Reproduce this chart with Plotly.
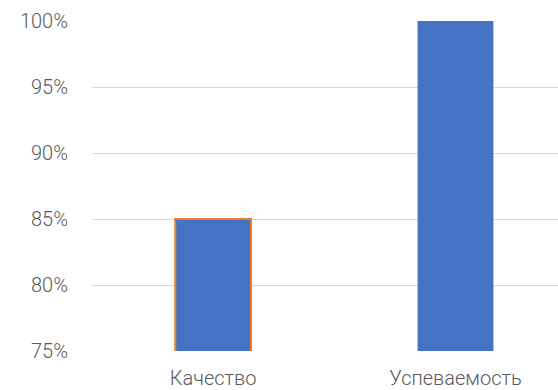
import plotly.graph_objects as go

# Share of students: quality of knowledge vs. academic progress
categories = ["Качество", "Успеваемость"]
values = [0.85, 1.00]
y_ticks = [0.75, 0.80, 0.85, 0.90, 0.95, 1.00]
y_tick_labels = ["75%", "80%", "85%", "90%", "95%", "100%"]

bar_fill = "#4472C4"
outline_colors = ["#ED7D31", "rgba(0,0,0,0)"]
outline_widths = [2, 0]

fig = go.Figure(
    go.Bar(
        x=categories,
        y=values,
        width=0.313,
        marker=dict(
            color=bar_fill,
            line=dict(color=outline_colors, width=outline_widths),
        ),
        hoverinfo="skip",
    )
)

label_font = dict(family="Roboto", size=20, color="#595959", weight=300)

fig.update_layout(
    width=558,
    height=390,
    margin=dict(l=92, r=0, t=21, b=39),
    paper_bgcolor="white",
    plot_bgcolor="white",
    showlegend=False,
    font=label_font,
    xaxis=dict(
        range=[-0.5, 1.423],
        showgrid=False,
        showline=False,
        zeroline=False,
        ticks="",
        ticklabelstandoff=13,
        tickfont=label_font,
    ),
    yaxis=dict(
        range=[0.75, 1.0],
        tickvals=y_ticks,
        ticktext=y_tick_labels,
        showgrid=True,
        gridcolor="#D9D9D9",
        gridwidth=1,
        zeroline=False,
        showline=False,
        ticks="",
        ticklabelstandoff=23,
        tickfont=label_font,
    ),
)

fig.write_html("out.html")
